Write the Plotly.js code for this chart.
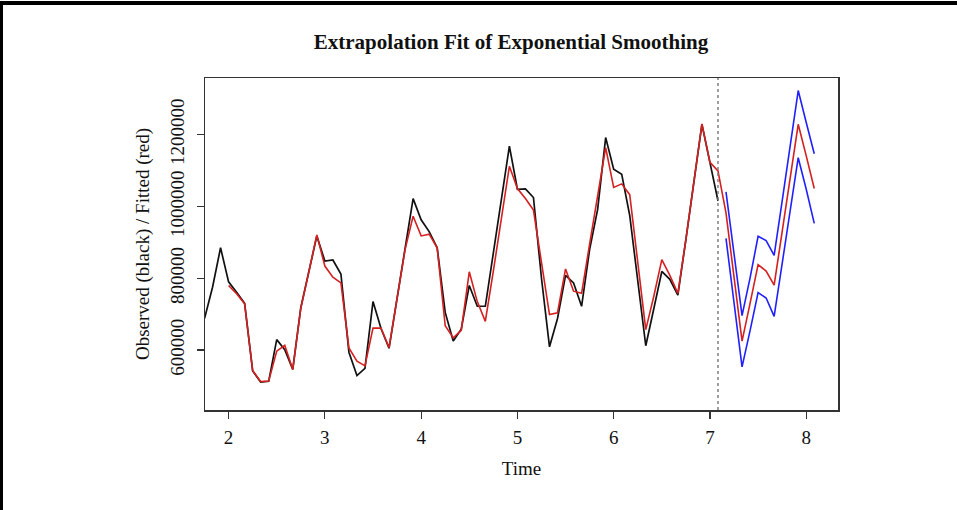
<!DOCTYPE html>
<html>
<head>
<meta charset="utf-8">
<script src="https://cdn.plot.ly/plotly-3.0.1.min.js"></script>
<style>html,body{margin:0;padding:0;background:#fff;}#chart{width:957px;height:510px;}</style>
</head>
<body>
<div id="chart"></div>
<script>
// Monthly series, frequency 12
const freq = 12;
const observedStart = 1.75;      // first observed month
const fittedStart = 2.0;         // first fitted month
const forecastStart = 7 + 2/12;  // first forecast month
const observedEnd = 7 + 1/12;    // last observed month (dotted divider)

const observed = [688000, 775000, 885000, 790000, 761000, 730000, 542000, 511000, 513000, 629000, 601000, 546000,
  718000, 820000, 918000, 848000, 851000, 812000, 594000, 529000, 549000, 735000, 660000, 605000,
  744000, 883000, 1022000, 963000, 930000, 885000, 705000, 625000, 658000, 780000, 722000, 722000,
  873000, 1020000, 1168000, 1048000, 1049000, 1025000, 800000, 609000, 688000, 808000, 787000, 722000,
  880000, 992000, 1192000, 1104000, 1090000, 975000, 790000, 612000, 715000, 819000, 797000, 753000,
  908000, 1070000, 1229000, 1122000, 1016000];

const fitted = [780000, 757000, 729000, 543000, 512000, 514000, 597000, 613000, 546000,
  716000, 818000, 921000, 834000, 803000, 787000, 606000, 569000, 556000, 661000, 661000, 607000,
  740000, 880000, 973000, 918000, 923000, 885000, 668000, 634000, 655000, 818000, 735000, 680000,
  820000, 967000, 1112000, 1050000, 1022000, 990000, 845000, 699000, 704000, 826000, 764000, 758000,
  895000, 1029000, 1164000, 1053000, 1063000, 1033000, 844000, 657000, 750000, 852000, 808000, 758000,
  908000, 1071000, 1230000, 1123000, 1099000];

const forecast = [982000, 804000, 625000, 730000, 838000, 820000, 781000, 930000, 1080000, 1229000, 1141000, 1050000];
const upper    = [1041000, 867000, 696000, 801000, 917000, 905000, 864000, 1015000, 1168000, 1323000, 1234000, 1147000];
const lower    = [911000, 732000, 553000, 654000, 760000, 745000, 694000, 841000, 989000, 1136000, 1048000, 953000];

const xTicks = [2, 3, 4, 5, 6, 7, 8];
const yTicks = [600000, 800000, 1000000, 1200000];
const yTickLabels = ['600000', '800000', '1000000', '1200000'];

function times(start, n) { const t = []; for (let i = 0; i < n; i++) t.push(start + i / freq); return t; }

const tObs = times(observedStart, observed.length);
const tFit = times(fittedStart, fitted.length);
const tFc = times(forecastStart, forecast.length);

const serif = 'Liberation Serif, Times New Roman, serif';

const traces = [
  {x: tObs, y: observed, mode: 'lines', line: {color: '#111111', width: 1.7}, name: 'Observed'},
  {x: tFit.concat(tFc), y: fitted.concat(forecast), mode: 'lines', line: {color: '#d42020', width: 1.6}, name: 'Fitted'},
  {x: tFc, y: upper, mode: 'lines', line: {color: '#2020ff', width: 1.6}, name: 'Upper'},
  {x: tFc, y: lower, mode: 'lines', line: {color: '#2020ff', width: 1.6}, name: 'Lower'}
];

const L = 205, R = 838, T = 78, B = 410;
const W = 957, H = 510;
const pw = R - L, ph = B - T;

const layout = {
  width: W, height: H,
  margin: {l: L, r: W - R, t: T, b: H - B},
  paper_bgcolor: '#ffffff', plot_bgcolor: '#ffffff',
  showlegend: false,
  font: {family: serif, size: 19, color: '#111'},
  title: {text: '<b>Extrapolation Fit of Exponential Smoothing</b>', font: {family: serif, size: 21, color: '#111'},
          xref: 'paper', x: (511 - L) / pw, xanchor: 'center', yref: 'container', y: 1 - 42 / H, yanchor: 'middle'},
  xaxis: {range: [1.755, 8.33], tickvals: xTicks, ticktext: xTicks.map(String), ticks: 'outside', ticklen: 7, tickwidth: 1.2,
          tickcolor: '#333', showgrid: false, zeroline: false, showline: true, linecolor: '#333', linewidth: 1.5, mirror: true,
          ticklabelstandoff: 3, tickfont: {family: serif, size: 19, color: '#111'},
          title: {text: 'Time', font: {family: serif, size: 19, color: '#111'}, standoff: 14}},
  yaxis: {range: [433000, 1358000], tickvals: yTicks, ticktext: yTickLabels, ticks: 'outside', ticklen: 7, tickwidth: 1.2,
          tickcolor: '#333', tickangle: -90, showgrid: false, zeroline: false, showline: true, linecolor: '#333', linewidth: 1.5, mirror: true,
          ticklabelstandoff: 5, tickfont: {family: serif, size: 19, color: '#111'},
          title: {text: 'Observed (black) / Fitted (red)', font: {family: serif, size: 19, color: '#111'}, standoff: 12}},
  shapes: [
    {type: 'line', xref: 'x', yref: 'paper', x0: observedEnd, x1: observedEnd, y0: 0, y1: 1,
     line: {color: '#777', width: 1.4, dash: 'dot'}},
    // outer figure frame (top and left)
    {type: 'line', xref: 'paper', yref: 'paper', x0: (0 - L) / pw, x1: (W - L) / pw, y0: (B - 3) / ph, y1: (B - 3) / ph,
     line: {color: '#000', width: 4}},
    {type: 'line', xref: 'paper', yref: 'paper', x0: (1.5 - L) / pw, x1: (1.5 - L) / pw, y0: (B - 1) / ph, y1: (B - H) / ph,
     line: {color: '#000', width: 3}}
  ]
};

Plotly.newPlot('chart', traces, layout, {displayModeBar: false, staticPlot: true});
</script>
</body>
</html>
